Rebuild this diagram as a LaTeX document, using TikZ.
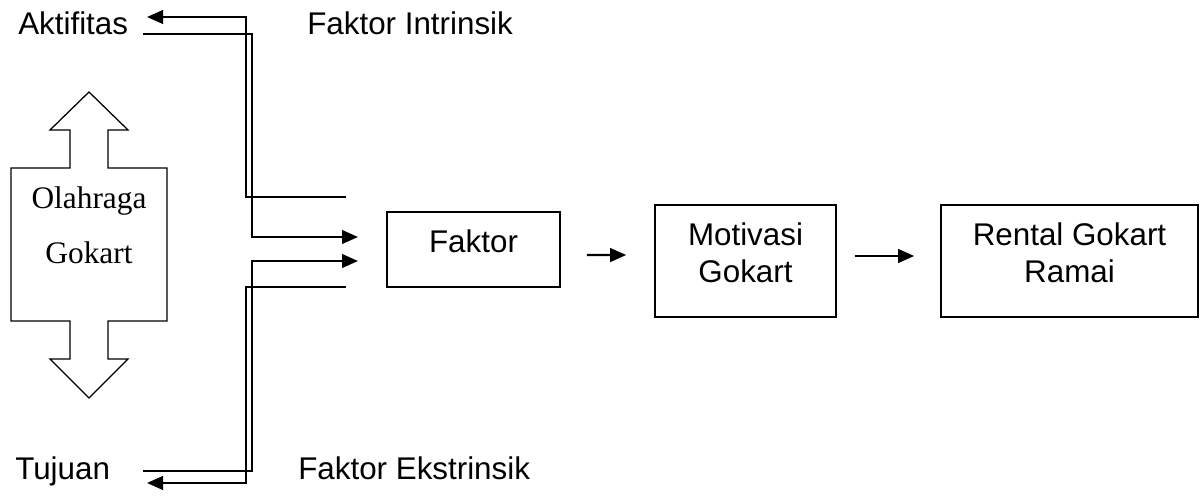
\documentclass[tikz,border=0pt]{standalone}
\usepackage{fontspec}
\setmainfont{Liberation Serif}
\setsansfont{Liberation Sans}
\usetikzlibrary{arrows.meta,calc}

\begin{document}
\begin{tikzpicture}[x=0.025cm, y=-0.025cm, font=\sffamily\fontsize{22.3}{26.2}\selectfont]
  \tikzset{
    flow/.style={-{Triangle[length=0.4cm,width=0.34cm]}, line width=1.6pt},
    box/.style={draw, line width=1.1pt, align=center, text depth=12pt, inner sep=0pt},
    lbl/.style={anchor=base west, inner sep=0pt}
  }
  \useasboundingbox (0,0) rectangle (1200,497);

  % Labels
  \node[lbl] (aktif)  at (18,35)   {Aktifitas};
  \node[lbl] (intr)   at (307,35)  {Faktor Intrinsik};
  \node[lbl] (tujuan) at (15,479)  {Tujuan};
  \node[lbl] (ekstr)  at (298,479) {Faktor Ekstrinsik};

  % Main nodes
  \node[box, minimum width=4.325cm, minimum height=1.875cm] (faktor)   at (473.5,249.5) {Faktor};
  \node[box, minimum width=4.525cm, minimum height=2.8cm]   (motivasi) at (745.5,261)   {Motivasi\\Gokart};
  \node[box, minimum width=6.425cm, minimum height=2.8cm]   (rental)   at (1069.5,261)  {Rental Gokart\\Ramai};

  % Double arrow
  \draw[line width=0.9pt] (89,92) -- (128,130) -- (108,130) -- (108,168) -- (167,168) -- (167,321)
    -- (108,321) -- (108,359) -- (128,359) -- (89,398) -- (50,359) -- (70,359) -- (70,321)
    -- (11,321) -- (11,168) -- (70,168) -- (70,130) -- (50,130) -- cycle;
  \node[font=\rmfamily\fontsize{22.3}{39}\selectfont, align=center, inner sep=0pt] (olahraga) at (89,225) {Olahraga\\Gokart};

  % Line ends
  \coordinate (aktifA) at (147,17);
  \coordinate (aktifB) at (143,34);
  \coordinate (tujA)   at (147,483);
  \coordinate (tujB)   at (143,471);
  \coordinate (inA)    at (346,197);
  \coordinate (inB)    at (346,287);
  \coordinate (tipA)   at (358,237);
  \coordinate (tipB)   at (358,261);

  % Factor lines
  \draw[flow] (inA) -- ++(-100,0) |- (aktifA);
  \draw[flow] (aktifB) -- ++(109,0) |- (tipA);
  \draw[flow] (tujB) -- ++(109,0) |- (tipB);
  \draw[flow] (inB) -- ++(-100,0) |- (tujA);

  % Flow arrows
  \draw[flow] ([xshift=0.65cm,yshift=-0.14cm]faktor.east) -- ([xshift=-0.7cm,yshift=0.15cm]motivasi.west);
  \draw[flow] ([xshift=0.45cm,yshift=0.125cm]motivasi.east) -- ([xshift=-0.65cm,yshift=0.125cm]rental.west);

\end{tikzpicture}
\end{document}
